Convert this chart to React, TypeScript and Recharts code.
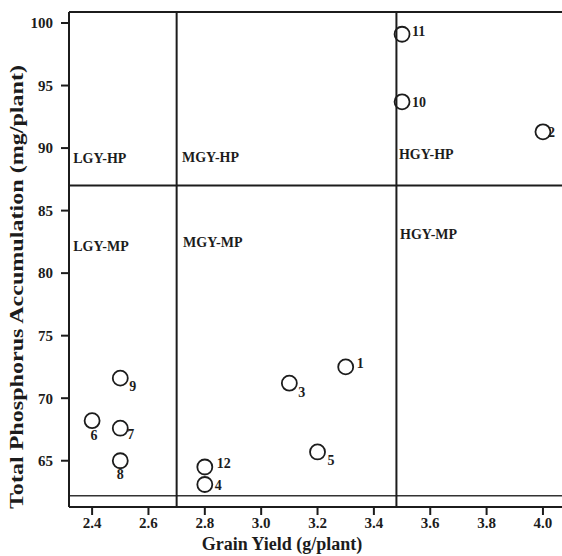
import { ReferenceDot, ReferenceLine, Scatter, ScatterChart, XAxis, YAxis } from "recharts";

// Genotype numbers with grain yield (g/plant) and total P accumulation (mg/plant).
const GENOTYPES = ["1", "2", "3", "4", "5", "6", "7", "8", "9", "10", "11", "12"];
const GRAIN_YIELD = [3.3, 4.0, 3.1, 2.8, 3.2, 2.4, 2.5, 2.5, 2.5, 3.5, 3.5, 2.8];
const P_ACCUM = [72.5, 91.3, 71.2, 63.1, 65.7, 68.2, 67.6, 65.0, 71.6, 93.7, 99.1, 64.5];

const X_TICKS = [2.4, 2.6, 2.8, 3.0, 3.2, 3.4, 3.6, 3.8, 4.0];
const Y_TICKS = [65, 70, 75, 80, 85, 90, 95, 100];
const X_DOMAIN: [number, number] = [2.318, 4.096];
const Y_DOMAIN: [number, number] = [61.3, 100.88];

// Class boundaries: yield (LGY / MGY / HGY) and P accumulation (MP / HP).
const YIELD_CUTS = [2.7, 3.48];
const P_CUT = 87;
const BASE_LINE = 62.2;

const CLASS_NAMES = ["LGY-HP", "MGY-HP", "HGY-HP", "LGY-MP", "MGY-MP", "HGY-MP"];
const CLASS_X = [2.333, 2.719, 3.489, 2.333, 2.723, 3.493];
const CLASS_Y = [88.81, 88.89, 89.13, 81.77, 82.09, 82.73];

const INK = "#1c1c1c";
const SERIF = "'Liberation Serif', 'DejaVu Serif', serif";

// where each number sits next to its circle: dx, dy, anchor
const LABEL_STYLE: Record<string, [number, number, "start" | "middle"]> = {
  "1": [11, 1, "start"],
  "2": [5, 5, "start"],
  "3": [9, 14, "start"],
  "4": [10, 6, "start"],
  "5": [10, 13, "start"],
  "6": [2, 19, "middle"],
  "7": [7, 11, "start"],
  "8": [0, 18, "middle"],
  "9": [9, 13, "start"],
  "10": [10, 5, "start"],
  "11": [10, 2, "start"],
  "12": [12, 1, "start"],
};

const points = GENOTYPES.map((id, i) => ({ id, x: GRAIN_YIELD[i], y: P_ACCUM[i] }));
const TICK = { fill: INK, fontSize: 15, fontWeight: 700, fontFamily: SERIF };

function Point(props: any) {
  const { cx, cy, payload } = props;
  const [dx, dy, anchor] = LABEL_STYLE[payload.id];
  return (
    <g>
      <circle cx={cx} cy={cy} r={7.5} fill="none" stroke={INK} strokeWidth={1.8} />
      <text
        x={cx + dx}
        y={cy + dy}
        textAnchor={anchor}
        fontSize={14}
        fontWeight={700}
        fontFamily={SERIF}
        fill={INK}
      >
        {payload.id}
      </text>
    </g>
  );
}

export default function App() {
  return (
    <div style={{ position: "absolute", left: 0, top: 0, width: 562, height: 556, overflow: "hidden", background: "#fff" }}>
      <ScatterChart width={570} height={556} margin={{ top: 12, right: 0, bottom: 0, left: 0 }}>
        <XAxis
          type="number"
          dataKey="x"
          domain={X_DOMAIN}
          ticks={X_TICKS}
          allowDataOverflow
          height={49}
          tickSize={8}
          tickFormatter={(v: number) => v.toFixed(1)}
          tick={TICK}
          stroke={INK}
          strokeWidth={2}
        />
        <YAxis
          type="number"
          dataKey="y"
          domain={Y_DOMAIN}
          ticks={Y_TICKS}
          allowDataOverflow
          width={69}
          tickSize={8}
          tickMargin={8}
          tick={TICK}
          stroke={INK}
          strokeWidth={2}
        />
        <ReferenceLine y={Y_DOMAIN[1]} stroke={INK} strokeWidth={2} />
        <ReferenceLine y={P_CUT} stroke={INK} strokeWidth={2} />
        <ReferenceLine y={BASE_LINE} stroke="#333" strokeWidth={1.5} />
        {YIELD_CUTS.map((c) => (
          <ReferenceLine key={c} x={c} stroke={INK} strokeWidth={2} />
        ))}
        {CLASS_NAMES.map((name, i) => (
          <ReferenceDot
            key={name}
            x={CLASS_X[i]}
            y={CLASS_Y[i]}
            r={0}
            shape={(p: any) => (
              <text x={p.cx} y={p.cy} fontSize={14} fontWeight={700} fontFamily={SERIF} fill={INK}>
                {name}
              </text>
            )}
          />
        ))}
        <Scatter data={points} shape={Point} isAnimationActive={false} />
        <text x={282} y={550} textAnchor="middle" fontSize={18} fontWeight={700} fontFamily={SERIF} fill={INK}>
          Grain Yield (g/plant)
        </text>
        <text
          x={0}
          y={0}
          transform="translate(23 287) rotate(-90)"
          textAnchor="middle"
          fontSize={18}
          fontWeight={700}
          fontFamily={SERIF}
          fill={INK}
          textLength={444}
          lengthAdjust="spacingAndGlyphs"
        >
          Total Phosphorus Accumulation (mg/plant)
        </text>
      </ScatterChart>
    </div>
  );
}
